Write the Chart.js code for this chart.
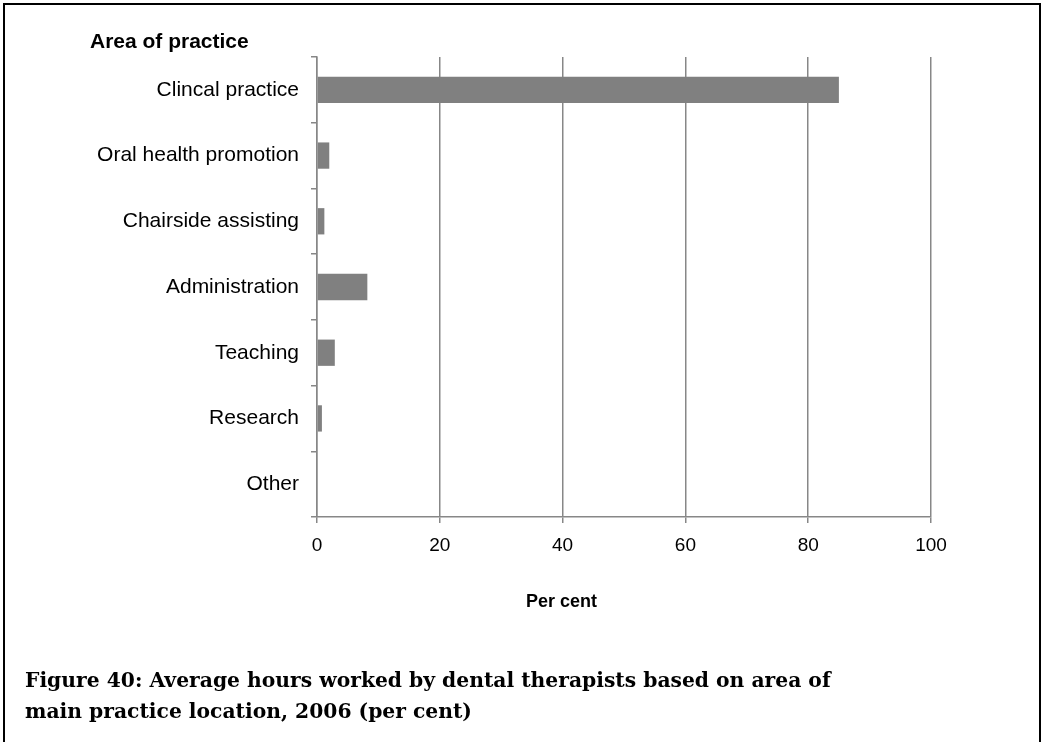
<!DOCTYPE html>
<html>
<head>
<meta charset="utf-8">
<script src="https://cdn.jsdelivr.net/npm/chart.js@4/dist/chart.umd.min.js"></script>
<style>
  body { margin: 0; background: #fff; }
  #wrap { position: relative; width: 1044px; height: 742px; overflow: hidden; }
  #frame { position: absolute; left: 3px; top: 3px; width: 1034px; height: 800px; border: 2px solid #000; }
  #chart { position: absolute; left: 0; top: 0; }
  .lbl { position: absolute; font-family: "Liberation Sans", Arial, sans-serif; font-weight: bold; color: #000; white-space: nowrap; }
  #caption { position: absolute; left: 25px; top: 665px; font-family: "DejaVu Serif", "Liberation Serif", serif; font-weight: bold; font-size: 20.3px; line-height: 31px; color: #000; white-space: nowrap; }
</style>
</head>
<body>
<div id="wrap">
  <div id="frame"></div>
  <canvas id="chart" width="1044" height="742"></canvas>
  <div class="lbl" style="left:90px; top:29px; font-size:21px; line-height:24px;">Area of practice</div>
  <div class="lbl" style="left:526px; top:590px; font-size:18px; line-height:22px;">Per cent</div>
  <div id="caption">Figure 40: Average hours worked by dental therapists based on area of<br>main practice location, 2006 (per cent)</div>
</div>
<script>
const areas = ['Clincal practice', 'Oral health promotion', 'Chairside assisting', 'Administration', 'Teaching', 'Research', 'Other'];
const perCent = [85.0, 2.0, 1.2, 8.2, 2.9, 0.8, 0];
const xTicks = [0, 20, 40, 60, 80, 100];

const lineGrey = '#878787';
const sans = '"Liberation Sans", Arial, sans-serif';

var ctx = document.getElementById('chart').getContext('2d');
var chart = new Chart(ctx, {
    type: 'bar',
    data: {
        labels: areas,
        datasets: [{
            label: 'Per cent',
            data: perCent,
            backgroundColor: '#808080',
            borderWidth: 0,
            barPercentage: 0.4,
            categoryPercentage: 1
        }]
    },
    options: {
        indexAxis: 'y',
        responsive: false,
        animation: false,
        layout: { padding: { left: 0, top: 57, right: 113, bottom: 185 } },
        plugins: {
            legend: { display: false },
            tooltip: { enabled: false }
        },
        scales: {
            x: {
                min: 0,
                max: 100,
                afterBuildTicks: function(scale) {
                    scale.ticks = xTicks.map(function(v) { return { value: v }; });
                },
                afterFit: function(scale) { scale.height = 40; },
                grid: { color: lineGrey, lineWidth: 1.5, tickLength: 6, drawTicks: true },
                border: { color: lineGrey, width: 1.5 },
                ticks: {
                    color: '#000',
                    padding: 11,
                    font: { family: sans, size: 19 }
                }
            },
            y: {
                afterFit: function(scale) { scale.width = 317; },
                grid: { offset: true, drawOnChartArea: false, color: lineGrey, lineWidth: 1.5, tickLength: 6 },
                border: { color: lineGrey, width: 1.5 },
                ticks: {
                    color: '#000',
                    padding: 12,
                    font: { family: sans, size: 21 }
                }
            }
        }
    }
});
</script>
</body>
</html>
